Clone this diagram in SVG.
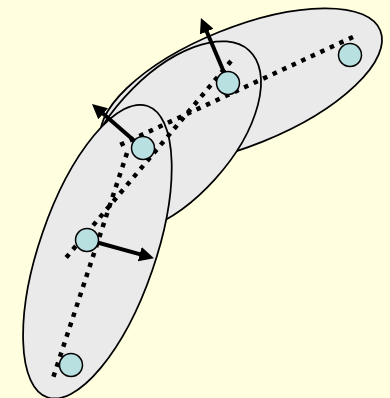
<svg xmlns="http://www.w3.org/2000/svg" width="390" height="398" viewBox="0 0 390 398">
<defs>
<style>
.cl{fill:#eaeaea;stroke:#000;stroke-width:1.75}
.ax{fill:none;stroke:#000;stroke-width:4.5;stroke-dasharray:4.5 6}
.ar{fill:none;stroke:#000;stroke-width:4;marker-end:url(#head)}
.nd{fill:#b9e0e0;stroke:#000;stroke-width:1.5}
</style>
<marker id="head" viewBox="0 0 10 10" refX="3" refY="5" markerWidth="3.7" markerHeight="3.7" orient="auto" markerUnits="strokeWidth">
<path d="M0,0 L10,5 L0,10 z" fill="#000"/>
</marker>
</defs>
<rect width="390" height="398" fill="#ffffe0"/>
<g id="clusters">
<ellipse id="cluster3" class="cl" cx="241.2" cy="86.7" rx="150" ry="59" transform="rotate(-22 241.2 86.7)"/>
<ellipse id="cluster2" class="cl" cx="170" cy="138" rx="118" ry="61" transform="rotate(-48 170 138)"/>
<ellipse id="cluster1" class="cl" cx="97.4" cy="251.6" rx="154" ry="58" transform="rotate(-71 97.4 251.6)"/>
</g>
<g id="connectors">
<line class="ax" x1="353" y1="37" x2="120" y2="145"/>
<line class="ax" x1="231" y1="61" x2="65" y2="259"/>
<line class="ax" x1="127" y1="153" x2="53" y2="378"/>
<line class="ar" x1="226" y1="77" x2="205" y2="27.5"/>
<line class="ar" x1="138" y1="144" x2="99.8" y2="110.8"/>
<line class="ar" x1="92" y1="241" x2="144" y2="255.4"/>
</g>
<g id="n1"><circle class="nd" cx="350" cy="55" r="11.5"/></g>
<g id="n2"><circle class="nd" cx="228" cy="83" r="11.5"/></g>
<g id="n3"><circle class="nd" cx="143" cy="148" r="11.5"/></g>
<g id="n4"><circle class="nd" cx="87" cy="240" r="11.5"/></g>
<g id="n5"><circle class="nd" cx="71" cy="365" r="11.5"/></g>
</svg>
